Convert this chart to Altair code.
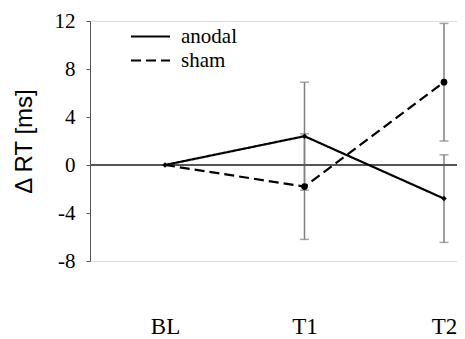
import altair as alt
import pandas as pd

# ---- data ----
time_labels = ["BL", "T1", "T2"]
series_names = ["anodal", "sham"]
anodal_mean = [0.0, 2.4, -2.8]
anodal_err = [None, 4.5, 3.65]
sham_mean = [0.0, -1.8, 6.9]
sham_err = [None, 4.4, 4.9]
y_ticks = [-8, -4, 0, 4, 8, 12]

rows = []
for i, lab in enumerate(time_labels):
    rows.append({"series": "anodal", "t": i, "label": lab, "v": anodal_mean[i], "e": anodal_err[i]})
for i, lab in enumerate(time_labels):
    rows.append({"series": "sham", "t": i, "label": lab, "v": sham_mean[i], "e": sham_err[i]})
df = pd.DataFrame(rows)
df["lo"] = df["v"] - df["e"]
df["hi"] = df["v"] + df["e"]

label_expr = "[" + ",".join("'" + s + "'" for s in time_labels) + "][datum.value]"

xscale = alt.Scale(domain=[-0.5376, 2.0932], nice=False, zero=False, padding=0)
yscale = alt.Scale(domain=[-8, 12], nice=False, zero=False, padding=0)

X = alt.X("t:Q", scale=xscale, title=None,
          axis=alt.Axis(values=[0, 1, 2], labelExpr=label_expr, domain=False, ticks=False,
                        grid=False, labelFont="Liberation Serif", labelFontSize=23,
                        labelColor="black", labelPadding=54))
Y = alt.Y("v:Q", scale=yscale, title="Δ RT [ms]",
          axis=alt.Axis(values=y_ticks, labelExpr="'' + datum.value", grid=False,
                        domainColor="#555555", tickColor="#555555",
                        tickSize=4, labelFont="Liberation Serif", labelFontSize=21,
                        labelColor="black", labelPadding=11, titleFont="Liberation Sans",
                        titleFontSize=24, titleFontWeight="normal", titleColor="black",
                        titlePadding=18))

base = alt.Chart(df)
errdf = base.transform_filter("isValid(datum.e)")

err_rule = errdf.mark_rule(color="#808080", strokeWidth=1.5).encode(
    x=X, y=alt.Y("lo:Q", scale=yscale), y2="hi:Q")
cap_lo = errdf.mark_tick(color="#808080", thickness=1.5, size=9, orient="horizontal").encode(
    x=X, y=alt.Y("lo:Q", scale=yscale))
cap_hi = errdf.mark_tick(color="#808080", thickness=1.5, size=9, orient="horizontal").encode(
    x=X, y=alt.Y("hi:Q", scale=yscale))

zero = alt.Chart(df).mark_rule(color="#555555", strokeWidth=1).encode(y=alt.datum(0, scale=yscale))

lines = base.mark_line(color="black", strokeWidth=2.2).encode(
    x=X, y=Y,
    strokeDash=alt.StrokeDash("series:N",
                              scale=alt.Scale(domain=series_names, range=[[1, 0], [10, 5]]),
                              legend=alt.Legend(title=None, orient="none", legendX=50, legendY=5,
                                                symbolType="M-3,0H3", symbolSize=169,
                                                symbolStrokeColor="black", symbolStrokeWidth=2.2,
                                                labelFont="Liberation Serif", labelFontSize=21,
                                                labelColor="black", labelOffset=20)),
    detail="series:N")

pts_a = base.transform_filter("datum.series == 'anodal'").mark_point(
    shape="diamond", filled=True, color="black", size=30, opacity=1).encode(x=X, y=Y)
pts_s = base.transform_filter("datum.series == 'sham' && datum.t > 0").mark_point(
    shape="circle", filled=True, color="black", size=45, opacity=1).encode(x=X, y=Y)

chart = alt.layer(err_rule, cap_lo, cap_hi, zero, lines, pts_a, pts_s).properties(
    width=367, height=240,
    autosize=alt.AutoSizeParams(type="none"),
    padding={"left": 82, "top": 13, "right": 0, "bottom": 78},
).configure_view(stroke=None).configure(background="white")

chart.save("out.html", embed_options={"renderer": "svg", "actions": False})
